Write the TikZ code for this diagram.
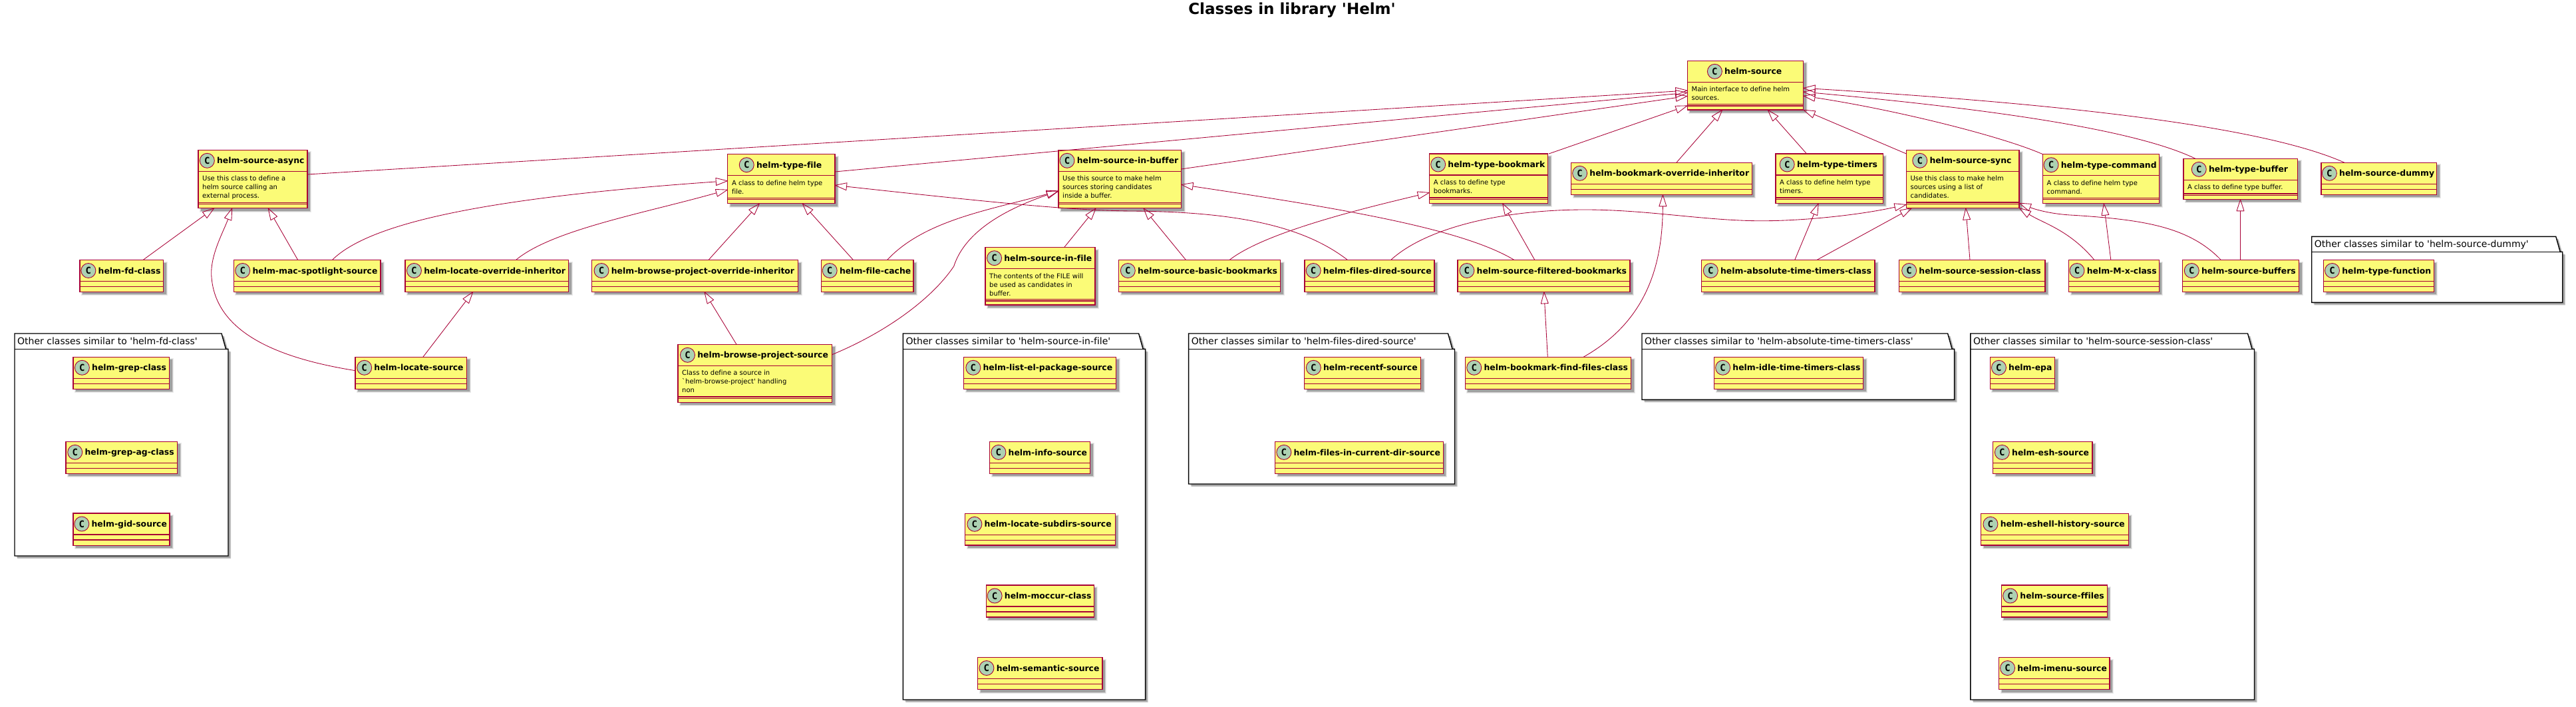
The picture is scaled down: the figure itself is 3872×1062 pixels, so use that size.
\documentclass[tikz,border=0pt]{standalone}
\usepackage{fontspec}
\usetikzlibrary{arrows.meta}
\newfontfamily\dv[Ligatures=NoCommon]{DejaVu Sans}
\newfontfamily\dvm[Ligatures=NoCommon]{DejaVu Sans Mono}
\definecolor{umlred}{HTML}{A80036}
\definecolor{umlyellow}{HTML}{FBFB77}
\definecolor{umlgreen}{HTML}{ADD1B2}
\newcommand{\titlefont}{\dv\bfseries\fontsize{12.4}{14}\selectfont}
\tikzset{
  clsbox/.style={draw=umlred,fill=umlyellow,line width=1.2pt,inner sep=0pt,outer sep=0pt,rectangle},
  clsline/.style={draw=umlred,line width=1.2pt},
  spotc/.style={circle,draw=umlred,fill=umlgreen,line width=.9pt,minimum size=22pt,inner sep=0pt,font=\dvm\bfseries\fontsize{14}{14}\selectfont},
  titlenode/.style={anchor=base,inner sep=0pt,font=\titlefont},
  bodynode/.style={anchor=north west,inner sep=0pt,align=left,font=\dv\fontsize{10}{13}\selectfont},
  pkgline/.style={draw=black,line width=1.4pt,fill=white,line join=miter},
  pkgtitle/.style={anchor=base west,inner sep=0pt,font=\dv\fontsize{14}{15}\selectfont},
  inh/.style={draw=umlred,line width=.85pt,-{Triangle[open,length=19pt,width=12pt,round=false]}},
  mainttl/.style={anchor=base,inner sep=0pt,font=\dv\bfseries\fontsize{23}{26}\selectfont},
}
\newcommand{\shadowrect}[4]{%
  \fill[black,opacity=.08] ({#1+2},{#2+2}) rectangle ({#3+6},{#4+6});
  \fill[black,opacity=.12] ({#1+3},{#2+3}) rectangle ({#3+5},{#4+5});
  \fill[black,opacity=.22] ({#1+4},{#2+4}) rectangle ({#3+4},{#4+4});
}
\newcommand{\clsbase}[6]{%
  \shadowrect{#2}{#3}{#4}{#5}
  \pgfmathsetmacro\mycx{(#2+#4)/2}
  \pgfmathsetmacro\mycy{(#3+#5)/2}
  \pgfmathsetmacro\myw{#4-#2}
  \pgfmathsetmacro\myh{#5-#3}
  \node[clsbox,minimum width=\myw pt,minimum height=\myh pt] (#1) at (\mycx,\mycy) {};
  \node[titlenode] (#1-t) at ({\mycx+11.8},{#3+20.6}) {#6};
  \node[spotc] (#1-c) at ([xshift=-14.6pt,yshift=4.6pt]#1-t.base west) {C};
  \draw[clsline] (#2,{#3+32}) -- (#4,{#3+32});
}
\newcommand{\clsE}[6]{%
  \clsbase{#1}{#2}{#3}{#4}{#5}{#6}
  \draw[clsline] (#2,{#3+40}) -- (#4,{#3+40});
}
\newcommand{\clsB}[7]{%
  \clsbase{#1}{#2}{#3}{#4}{#5}{#6}
  \node[bodynode] (#1-b) at ({#2+6},{#3+38.8}) {#7};
  \draw[clsline] (#2,{#5-8.4}) -- (#4,{#5-8.4});
  \draw[clsline] (#2,{#5-6}) -- (#4,{#5-6});
}
% id x1 y1 yhdr x2 y2 title
\newcommand{\pkg}[7]{%
  \foreach \d/\o in {2/.08,3/.12,4/.22}{
    \fill[black,opacity=\o,shift={(\d,\d)}] (#2,#3) -- ({#5-10},#3) -- ({#5-3.5},#4) -- (#5,#4) -- (#5,#6) -- (#2,#6) -- cycle;
  }
  \draw[pkgline] (#2,#3) -- ({#5-10},#3) -- ({#5-3.5},#4) -- (#5,#4) -- (#5,#6) -- (#2,#6) -- cycle;
  \draw[pkgline] (#2,#4) -- (#5,#4);
  \node[pkgtitle] (#1) at ({#2+4},{#3+16.5}) {#7};
}
\begin{document}
\begin{tikzpicture}[x=1pt,y=-1pt]
\useasboundingbox (0,0) rectangle (3872,1062);
\fill[white] (0,0) rectangle (3872,1062);
\node[mainttl] (maintitle) at (1942,22) {Classes in library 'Helm'};

% packages
\pkg{pkgfd}{22}{501}{524.3}{343}{835}{Other classes similar to 'helm-fd-class'}
\pkg{pkgfile}{1357.4}{501}{524.3}{1721.6}{1051}{Other classes similar to 'helm-source-in-file'}
\pkg{pkgdired}{1786.6}{501}{524.3}{2186.5}{727}{Other classes similar to 'helm-files-dired-source'}
\pkg{pkgabs}{2468}{501}{524.3}{2937.6}{600.4}{Other classes similar to 'helm-absolute-time-timers-class'}
\pkg{pkgsess}{2961.9}{501}{524.3}{3388.5}{1051}{Other classes similar to 'helm-source-session-class'}
\pkg{pkgdummy}{3474.7}{355.3}{378.3}{3851.7}{454.3}{Other classes similar to 'helm-source-dummy'}

% classes with documentation
\clsB{source}{2536.4}{91.3}{2710.5}{165}{helm-source}{Main interface to define helm\\sources.}
\clsB{async}{298}{225.3}{462}{312.7}{helm-source-async}{Use this class to define a\\helm source calling an\\external process.}
\clsB{typefile}{1093.8}{231.7}{1255}{305.7}{helm-type-file}{A class to define helm type\\file.}
\clsB{inbuffer}{1591}{225.3}{1775.5}{312.7}{helm-source-in-buffer}{Use this source to make helm\\sources storing candidates\\inside a buffer.}
\clsB{infile}{1481}{371.7}{1646}{458}{helm-source-in-file}{The contents of the FILE will\\be used as candidates in\\buffer.}
\clsB{browsesrc}{1019}{517.3}{1250.6}{604.3}{helm-browse-project-source}{Class to define a source in\\`helm-browse-project' handling\\non}
\clsB{typebm}{2148.6}{231}{2326.5}{305.3}{helm-type-bookmark}{A class to define type\\bookmarks.}
\clsB{timers}{2669}{231}{2830.4}{305.3}{helm-type-timers}{A class to define helm type\\timers.}
\clsB{sync}{2865.4}{225.3}{3035}{312.4}{helm-source-sync}{Use this class to make helm\\sources using a list of\\candidates.}
\clsB{cmd}{3070.5}{231.7}{3245.3}{305.7}{helm-type-command}{A class to define helm type\\command.}
\clsB{tbuffer}{3281.9}{238.3}{3453.6}{299.3}{helm-type-buffer}{A class to define type buffer.}

% classes without documentation
\clsE{bmover}{2361.6}{244.3}{2633.3}{292.3}{helm-bookmark-override-inheritor}
\clsE{dummy}{3489}{244.3}{3662.6}{292.3}{helm-source-dummy}
\clsE{fd}{120}{390.5}{245.5}{438.3}{helm-fd-class}
\clsE{mac}{351.4}{390.5}{572}{438.3}{helm-mac-spotlight-source}
\clsE{locover}{609}{390.5}{854.6}{438.3}{helm-locate-override-inheritor}
\clsE{browseover}{889.7}{390.5}{1199.6}{438.3}{helm-browse-project-override-inheritor}
\clsE{filecache}{1234.7}{390.5}{1373}{438.3}{helm-file-cache}
\clsE{basic}{1681.8}{390.5}{1924.7}{438.3}{helm-source-basic-bookmarks}
\clsE{dired}{1961}{390.5}{2156}{438.3}{helm-files-dired-source}
\clsE{filtered}{2191}{390.5}{2450}{438.3}{helm-source-filtered-bookmarks}
\clsE{absolute}{2557.4}{390.5}{2818}{438.3}{helm-absolute-time-timers-class}
\clsE{session}{2854.6}{390.5}{3074}{438.3}{helm-source-session-class}
\clsE{mx}{3109.5}{390.5}{3245.3}{438.3}{helm-M-x-class}
\clsE{buffers}{3280.7}{390.5}{3455.5}{438.3}{helm-source-buffers}
\clsE{typefn}{3492.7}{390.5}{3658.2}{438.3}{helm-type-function}
\clsE{locsrc}{534}{536.3}{701.5}{584.3}{helm-locate-source}
\clsE{findfiles}{2202.3}{536.3}{2451.7}{584.5}{helm-bookmark-find-files-class}
\clsE{grep}{110}{536.3}{254.5}{584.3}{helm-grep-class}
\clsE{grepag}{99}{663.3}{266.6}{711.3}{helm-grep-ag-class}
\clsE{gid}{110}{771}{255}{819.3}{helm-gid-source}
\clsE{listel}{1448.6}{536.3}{1677.6}{584.3}{helm-list-el-package-source}
\clsE{info}{1487.5}{663.4}{1638.6}{711.2}{helm-info-source}
\clsE{subdirs}{1450.5}{771.3}{1676.3}{819}{helm-locate-subdirs-source}
\clsE{moccur}{1482.4}{879}{1644.4}{927}{helm-moccur-class}
\clsE{semantic}{1469.6}{987.5}{1657}{1035.5}{helm-semantic-source}
\clsE{recentf}{1960.7}{536.3}{2135.5}{584.3}{helm-recentf-source}
\clsE{currentdir}{1916.7}{663.4}{2169.3}{711.2}{helm-files-in-current-dir-source}
\clsE{idle}{2576.7}{536.3}{2800.5}{584.3}{helm-idle-time-timers-class}
\clsE{epa}{2991.2}{536.3}{3088.8}{584.3}{helm-epa}
\clsE{esh}{2995.7}{663.4}{3144.9}{711.2}{helm-esh-source}
\clsE{eshell}{2977.8}{771.3}{3199.1}{819}{helm-eshell-history-source}
\clsE{ffiles}{3008.4}{879}{3167.2}{927}{helm-source-ffiles}
\clsE{imenu}{3004.6}{987.5}{3171}{1035.5}{helm-imenu-source}

% connectors into helm-source
\draw[inh] (async.east |- 0,262) -- (source.west |- 0,136);
\draw[inh] (typefile.east |- 0,258) -- (source.west |- 0,139.3);
\draw[inh] (inbuffer.east |- 0,254) -- (source.west |- 0,144.3);
\draw[inh] (2328,0 |- typebm.north) -- (source.west |- 0,158.7);
\draw[inh] (2519.8,0 |- bmover.north) -- (2589,0 |- source.south);
\draw[inh] (2715.6,0 |- timers.north) -- (2657,0 |- source.south);
\draw[inh] (sync.west |- 0,231) -- (source.south east);
\draw[inh] (cmd.north west) .. controls (3010,205) and (2850,165) .. (source.east |- 0,144);
\draw[inh] (3299.9,0 |- tbuffer.north) .. controls (3200,190) and (2950,160) .. (source.east |- 0,138);
\draw[inh] (3524,0 |- dummy.north) .. controls (3380,180) and (3000,150) .. (source.east |- 0,132.3);

% connectors into helm-type-file
\draw[inh] (499.4,0 |- mac.north) .. controls (560,330) and (760,295) .. (typefile.west |- 0,271.7);
\draw[inh] (775.5,0 |- locover.north) .. controls (830,345) and (970,320) .. (typefile.west |- 0,285);
\draw[inh] (1065,0 |- browseover.north) -- (1141.6,0 |- typefile.south);
\draw[inh] (1282.5,0 |- filecache.north) -- (1206,0 |- typefile.south);
\draw[inh] (2025.5,0 |- dired.north) .. controls (1960,340) and (1860,318) .. (1700,317) .. controls (1610,316) and (1500,305) .. (typefile.east |- 0,278.3);

% connectors into helm-source-in-buffer
\draw[inh] (1333.5,0 |- filecache.north) .. controls (1390,330) and (1490,315) .. (inbuffer.west |- 0,286.7);
\draw[inh] (browsesrc.east |- 0,532.7) .. controls (1330,500) and (1400,450) .. (1433.7,400) .. controls (1445,365) and (1480,325) .. (inbuffer.west |- 0,287);
\draw[inh] (1599.5,0 |- infile.north) -- (1647.3,0 |- inbuffer.south);
\draw[inh] (1782.5,0 |- basic.north) -- (1718.7,0 |- inbuffer.south);
\draw[inh] (2276,0 |- filtered.north) .. controls (2200,345) and (2030,315) .. (inbuffer.east |- 0,277.3);

% connectors into helm-type-bookmark, override inheritor, filtered
\draw[inh] (1848,0 |- basic.north) .. controls (1900,350) and (2040,315) .. (typebm.west |- 0,289.3);
\draw[inh] (2306.8,0 |- filtered.north) -- (2258.3,0 |- typebm.south);
\draw[inh] (2326.3,0 |- findfiles.north) -- (2320.8,0 |- filtered.south);
\draw[inh] (2380,0 |- findfiles.north) .. controls (2480,480) and (2499,390) .. (2499.4,0 |- bmover.south);

% connectors into helm-source-sync
\draw[inh] (2090.6,0 |- dired.north) .. controls (2140,345) and (2250,315) .. (2382.7,315) .. controls (2480,315) and (2570,333) .. (2656.9,331.7) .. controls (2720,331) and (2800,322) .. (sync.west |- 0,307.3);
\draw[inh] (2730.9,0 |- absolute.north) -- (2873.7,0 |- sync.south);
\draw[inh] (2961,0 |- session.north) -- (2954.7,0 |- sync.south);
\draw[inh] (3148,0 |- mx.north) .. controls (3110,345) and (3070,335) .. (sync.south east);
\draw[inh] (3338.3,0 |- buffers.north) .. controls (3290,340) and (3220,330) .. (3117,323.3) .. controls (3085,322) and (3060,315) .. (sync.east |- 0,305);

% remaining single parents
\draw[inh] (2697.7,0 |- absolute.north) -- (2733.4,0 |- timers.south);
\draw[inh] (3172.8,0 |- mx.north) -- (3162.2,0 |- cmd.south);
\draw[inh] (3367.5,0 |- buffers.north) -- (3367.5,0 |- tbuffer.south);
\draw[inh] (215,0 |- fd.north) -- (322,0 |- async.south);
\draw[inh] (447.7,0 |- mac.north) -- (403,0 |- async.south);
\draw[inh] (locsrc.west |- 0,556.7) .. controls (430,540) and (325,505) .. (318,416.7) .. controls (315,385) and (335,350) .. (348.9,0 |- async.south);
\draw[inh] (635.8,0 |- locsrc.north) -- (711,0 |- locover.south);
\draw[inh] (1107,0 |- browsesrc.north) -- (1058.7,0 |- browseover.south);
\end{tikzpicture}
\end{document}
